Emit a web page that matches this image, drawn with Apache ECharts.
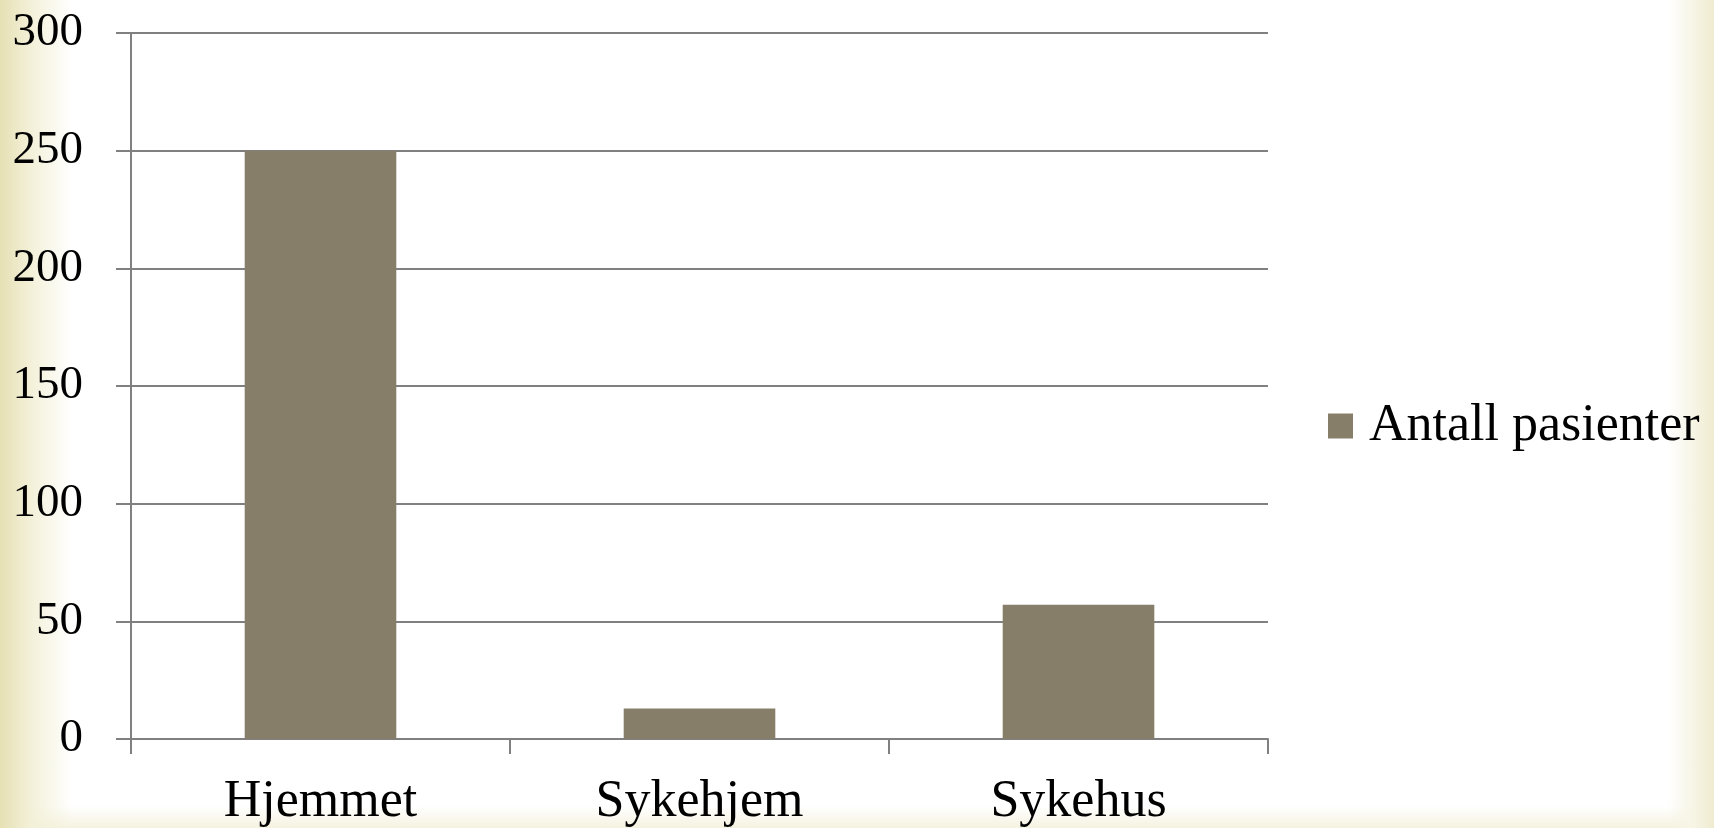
<!DOCTYPE html>
<html>
<head>
<meta charset="utf-8">
<script src="https://cdn.jsdelivr.net/npm/echarts@6/dist/echarts.min.js"></script>
<style>
html,body{margin:0;padding:0;width:1714px;height:828px;overflow:hidden;}
body{
  background:
    linear-gradient(to right, #e6e0b4 0px, #f3f0d8 30px, rgba(255,255,255,0) 72px),
    linear-gradient(to left, #efebd0 0px, #f7f5e6 22px, rgba(255,255,255,0) 46px),
    linear-gradient(to top, #f5f2e0 0px, rgba(255,255,255,0) 22px),
    #ffffff;
}
#chart{width:1714px;height:828px;}
</style>
</head>
<body>
<div id="chart"></div>
<script>
const categories = ['Hjemmet', 'Sykehjem', 'Sykehus'];
const seriesName = 'Antall pasienter';
const values = [250, 13, 57];
const yTicks = { min: 0, max: 300, interval: 50 };

const chart = echarts.init(document.getElementById('chart'), null, { renderer: 'canvas' });
const gray = '#808080';
chart.setOption({
  backgroundColor: 'transparent',
  animation: false,
  grid: { left: 131, right: 446, top: 33, bottom: 89, containLabel: false },
  legend: {
    show: true,
    data: [seriesName],
    left: 1323,
    top: 395,
    orient: 'vertical',
    icon: 'rect',
    itemWidth: 25,
    itemHeight: 25,
    textStyle: { fontFamily: 'Liberation Serif', fontSize: 52, color: '#000', padding: [0, 0, 0, 11] }
  },
  xAxis: {
    type: 'category',
    data: categories,
    axisLine: { show: true, lineStyle: { color: gray, width: 2 } },
    axisTick: { show: true, length: 15, lineStyle: { color: gray, width: 2 } },
    axisLabel: { fontFamily: 'Liberation Serif', fontSize: 52, color: '#000', margin: 37 }
  },
  yAxis: {
    type: 'value',
    min: yTicks.min,
    max: yTicks.max,
    interval: yTicks.interval,
    axisLine: { show: true, lineStyle: { color: gray, width: 2 } },
    axisTick: { show: true, length: 15, lineStyle: { color: gray, width: 2 } },
    splitLine: { show: true, lineStyle: { color: gray, width: 2 } },
    axisLabel: { fontFamily: 'Liberation Serif', fontSize: 47, color: '#000', margin: 48 }
  },
  series: [{
    name: seriesName,
    type: 'bar',
    data: values,
    barWidth: '40%',
    itemStyle: { color: '#877e6a' }
  }]
});
</script>
</body>
</html>
